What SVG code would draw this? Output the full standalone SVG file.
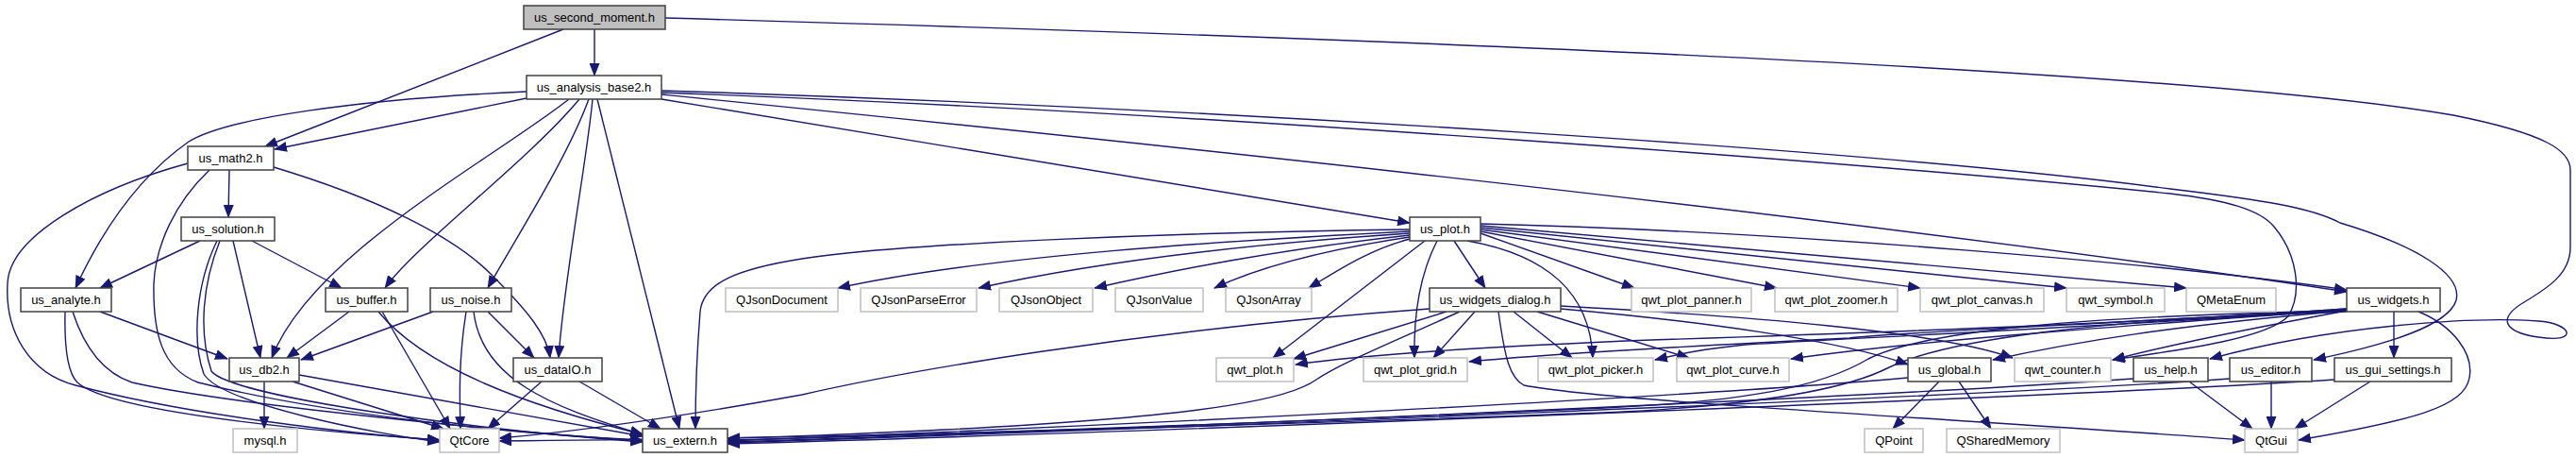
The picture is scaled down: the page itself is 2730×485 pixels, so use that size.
<svg xmlns="http://www.w3.org/2000/svg" width="2730" height="485" viewBox="0 0 2730 485">
<style>
.e path{fill:none;stroke:#191970;stroke-width:1.4;marker-end:url(#ah)}
.n rect{fill:#fff;stroke:#404040;stroke-width:1.5}
.x rect{fill:#fff;stroke:#bfbfbf;stroke-width:1.5}
text{font-family:"Liberation Sans",Arial,sans-serif;font-size:13px;fill:#000;text-anchor:middle}
</style>
<defs>
<marker id="ah" markerUnits="userSpaceOnUse" markerWidth="14" markerHeight="11" refX="13" refY="5.5" orient="auto"><path d="M0,0 L14,5.5 L0,11 z" fill="#191970"/></marker>
</defs>
<rect width="2730" height="485" fill="#fff"/>
<g id="edges" class="e">
<!-- us_second_moment.h -->
<path d="M630,31 L630,80"/>
<path d="M597,31 L281,155"/>
<path d="M705,19 C1300,36 2300,70 2600,122 C2700,142 2724,160 2724,180 L2724,262 C2724,290 2700,305 2675,320 C2645,338 2655,352 2690,357 C2735,364 2725,342 2690,340 C2620,335 2470,345 2342,380"/>
<!-- us_analysis_base2.h -->
<path d="M558,104 L291,158"/>
<path d="M558,97 C380,105 240,125 200,150 C150,185 110,240 80,305"/>
<path d="M603,105 C520,170 330,270 288,379"/>
<path d="M614,105 C560,170 440,260 408,305"/>
<path d="M624,105 C600,170 545,255 517,305"/>
<path d="M628,105 C622,170 597,300 592,379"/>
<path d="M633,105 L720,454"/>
<path d="M701,105 L1494,236"/>
<path d="M701,100 C1000,130 1900,220 2487,309"/>
<path d="M701,96 C1300,115 2000,160 2300,200 C2400,212 2450,220 2480,236 C2560,260 2610,290 2603,318 C2595,345 2530,365 2452,381"/>
<path d="M701,98 C1300,120 2000,175 2300,205 C2360,212 2395,222 2410,240 C2435,270 2440,310 2425,335 C2400,360 2300,372 2239,381"/>
<!-- us_math2.h -->
<path d="M243,180 L242,230"/>
<path d="M199,173 C100,200 10,250 8,300 C5,350 30,395 80,408 C200,440 380,460 466,466"/>
<path d="M222,180 C185,215 165,260 163,300 C162,350 170,390 210,405 C350,440 550,460 681,466"/>
<path d="M290,177 C400,210 480,250 520,290 C560,330 580,355 583,379"/>
<!-- us_solution.h -->
<path d="M212,255 L106,305"/>
<path d="M267,255 L362,305"/>
<path d="M247,255 L276,379"/>
<path d="M233,255 C215,300 210,350 224,393 C245,420 500,455 681,468"/>
<path d="M230,255 C208,300 203,360 216,396 C235,428 400,460 466,468"/>
<!-- us_analyte.h -->
<path d="M106,330 L241,380"/>
<path d="M69,330 C68,370 72,395 82,405 C120,440 380,460 466,466"/>
<path d="M77,330 C90,370 110,395 140,405 C250,430 550,458 681,467"/>
<!-- us_buffer.h -->
<path d="M370,330 L304,379"/>
<path d="M405,330 L477,454"/>
<path d="M401,330 C450,390 560,430 681,460"/>
<!-- us_noise.h -->
<path d="M459,330 L319,381"/>
<path d="M494,330 C486,380 487,420 488,454"/>
<path d="M502,330 C510,400 580,430 681,460"/>
<path d="M517,330 L566,379"/>
<!-- us_db2.h -->
<path d="M280,404 L280,454"/>
<path d="M310,404 L470,454"/>
<path d="M317,397 L681,462"/>
<!-- us_dataIO.h -->
<path d="M574,404 L517,454"/>
<path d="M614,404 L700,454"/>
<!-- us_plot.h -->
<path d="M1494,243 C1250,246 950,258 850,274 C780,285 745,300 742,330 C738,380 737,420 737,454"/>
<path d="M1494,245 C1300,255 1050,270 888,305"/>
<path d="M1494,247 C1300,260 1150,280 1037,305"/>
<path d="M1494,249 C1350,265 1250,285 1160,305"/>
<path d="M1494,251 C1400,265 1330,285 1287,305"/>
<path d="M1494,253 C1450,265 1420,285 1387,305"/>
<path d="M1510,255 L1349,379"/>
<path d="M1523,255 C1505,290 1498,330 1499,379"/>
<path d="M1541,255 L1574,305"/>
<path d="M1555,255 C1640,270 1685,310 1688,379"/>
<path d="M1569,247 L1732,305"/>
<path d="M1569,245 L1883,305"/>
<path d="M1569,243 L2035,305"/>
<path d="M1569,241 L2190,305"/>
<path d="M1569,239 L2317,305"/>
<path d="M1569,237 C1900,245 2300,280 2487,307"/>
<!-- us_widgets_dialog.h -->
<path d="M1515,327 C1200,350 950,395 850,418 C700,445 600,458 529,464"/>
<path d="M1533,330 L1371,380"/>
<path d="M1563,330 L1519,379"/>
<path d="M1604,330 L1666,379"/>
<path d="M1629,330 L1790,379"/>
<path d="M1547,330 C1470,365 1420,385 1395,402 C1370,420 1300,440 1000,455 C900,460 820,463 771,464"/>
<path d="M1588,330 C1595,380 1600,400 1615,408 C1700,425 2100,445 2379,466"/>
<path d="M1654,327 C1800,340 1950,360 2022,386"/>
<path d="M1654,324 C1850,335 2050,350 2133,379"/>
<!-- us_widgets.h -->
<path d="M2537,330 L2537,379"/>
<path d="M2563,330 C2600,345 2622,375 2617,400 C2612,430 2560,445 2436,466"/>
<path d="M2487,329 C2400,345 2300,365 2239,381"/>
<path d="M2487,329 C2300,345 2200,362 2112,381"/>
<path d="M2487,328 C2300,342 2050,358 1898,380"/>
<path d="M2487,328 C2300,342 2000,356 1850,365 C1800,370 1780,375 1754,381"/>
<path d="M2487,327 C2300,340 2000,352 1960,358 C1800,366 1650,374 1557,383"/>
<path d="M2487,327 C2300,340 2000,352 1750,360 C1600,366 1450,375 1373,386"/>
<path d="M2487,329 C2200,335 2040,350 1980,380 C1930,410 1850,425 1700,432 C1300,450 1000,460 771,466"/>
<path d="M2487,330 C2220,338 2060,360 2000,390 C1950,415 1850,430 1700,437 C1200,455 800,465 529,467"/>
<!-- us_global.h -->
<path d="M2055,404 L2006,454"/>
<path d="M2076,404 L2110,454"/>
<path d="M2022,400 C1800,420 1200,450 771,467"/>
<!-- us_help.h -->
<path d="M2320,404 L2387,454"/>
<path d="M2261,401 C2000,420 1200,455 771,468"/>
<!-- us_editor.h -->
<path d="M2407,404 L2407,454"/>
<path d="M2363,401 C2100,420 1200,455 771,469"/>
<!-- us_gui_settings.h -->
<path d="M2512,404 L2432,454"/>
<path d="M2474,402 C2200,420 1200,458 771,470"/>
</g>
<g id="n_sm" class="n"><rect x="555" y="6" width="150" height="25" style="fill:#bfbfbf"/><text x="630" y="23">us_second_moment.h</text></g>
<g id="n_ab" class="n"><rect x="558" y="80" width="143" height="25"/><text x="629.5" y="97">us_analysis_base2.h</text></g>
<g id="n_m2" class="n"><rect x="199" y="155" width="91" height="25"/><text x="244.5" y="172">us_math2.h</text></g>
<g id="n_sol" class="n"><rect x="192" y="230" width="99" height="25"/><text x="241.5" y="247">us_solution.h</text></g>
<g id="n_plot" class="n"><rect x="1494" y="230" width="75" height="25"/><text x="1531.5" y="247">us_plot.h</text></g>
<g id="n_an" class="n"><rect x="22" y="305" width="96" height="25"/><text x="70" y="322">us_analyte.h</text></g>
<g id="n_buf" class="n"><rect x="345" y="305" width="87" height="25"/><text x="388.5" y="322">us_buffer.h</text></g>
<g id="n_noi" class="n"><rect x="456" y="305" width="86" height="25"/><text x="499" y="322">us_noise.h</text></g>
<g id="n_qjd" class="x"><rect x="769" y="305" width="119" height="25"/><text x="828.5" y="322">QJsonDocument</text></g>
<g id="n_qjpe" class="x"><rect x="912" y="305" width="123" height="25"/><text x="973.5" y="322">QJsonParseError</text></g>
<g id="n_qjo" class="x"><rect x="1059" y="305" width="99" height="25"/><text x="1108.5" y="322">QJsonObject</text></g>
<g id="n_qjv" class="x"><rect x="1182" y="305" width="93" height="25"/><text x="1228.5" y="322">QJsonValue</text></g>
<g id="n_qja" class="x"><rect x="1299" y="305" width="91" height="25"/><text x="1344.5" y="322">QJsonArray</text></g>
<g id="n_wd" class="n"><rect x="1515" y="305" width="139" height="25"/><text x="1584.5" y="322">us_widgets_dialog.h</text></g>
<g id="n_pan" class="x"><rect x="1729" y="305" width="127" height="25"/><text x="1792.5" y="322">qwt_plot_panner.h</text></g>
<g id="n_zoom" class="x"><rect x="1881" y="305" width="130" height="25"/><text x="1946" y="322">qwt_plot_zoomer.h</text></g>
<g id="n_can" class="x"><rect x="2035" y="305" width="131" height="25"/><text x="2100.5" y="322">qwt_plot_canvas.h</text></g>
<g id="n_sym" class="x"><rect x="2190" y="305" width="104" height="25"/><text x="2242" y="322">qwt_symbol.h</text></g>
<g id="n_qme" class="x"><rect x="2317" y="305" width="95" height="25"/><text x="2364.5" y="322">QMetaEnum</text></g>
<g id="n_w" class="n"><rect x="2487" y="305" width="99" height="25"/><text x="2536.5" y="322">us_widgets.h</text></g>
<g id="n_db" class="n"><rect x="243" y="379" width="74" height="25"/><text x="280" y="396">us_db2.h</text></g>
<g id="n_dio" class="n"><rect x="544" y="379" width="94" height="25"/><text x="591" y="396">us_dataIO.h</text></g>
<g id="n_qwp" class="x"><rect x="1289" y="379" width="82" height="25"/><text x="1330" y="396">qwt_plot.h</text></g>
<g id="n_grid" class="x"><rect x="1445" y="379" width="110" height="25"/><text x="1500" y="396">qwt_plot_grid.h</text></g>
<g id="n_pick" class="x"><rect x="1630" y="379" width="122" height="25"/><text x="1691" y="396">qwt_plot_picker.h</text></g>
<g id="n_curve" class="x"><rect x="1777" y="379" width="119" height="25"/><text x="1836.5" y="396">qwt_plot_curve.h</text></g>
<g id="n_glob" class="n"><rect x="2022" y="379" width="88" height="25"/><text x="2066" y="396">us_global.h</text></g>
<g id="n_cnt" class="x"><rect x="2135" y="379" width="102" height="25"/><text x="2186" y="396">qwt_counter.h</text></g>
<g id="n_help" class="n"><rect x="2261" y="379" width="79" height="25"/><text x="2300.5" y="396">us_help.h</text></g>
<g id="n_edit" class="n"><rect x="2363" y="379" width="87" height="25"/><text x="2406.5" y="396">us_editor.h</text></g>
<g id="n_gui" class="n"><rect x="2474" y="379" width="124" height="25"/><text x="2536" y="396">us_gui_settings.h</text></g>
<g id="n_mysql" class="x"><rect x="247" y="454" width="68" height="25"/><text x="281" y="471">mysql.h</text></g>
<g id="n_qtc" class="x"><rect x="466" y="454" width="63" height="25"/><text x="497.5" y="471">QtCore</text></g>
<g id="n_ext" class="n"><rect x="681" y="454" width="90" height="25"/><text x="726" y="471">us_extern.h</text></g>
<g id="n_qpt" class="x"><rect x="1976" y="454" width="62" height="25"/><text x="2007" y="471">QPoint</text></g>
<g id="n_qsm" class="x"><rect x="2063" y="454" width="120" height="25"/><text x="2123" y="471">QSharedMemory</text></g>
<g id="n_qtg" class="x"><rect x="2379" y="454" width="56" height="25"/><text x="2407" y="471">QtGui</text></g>
</svg>
